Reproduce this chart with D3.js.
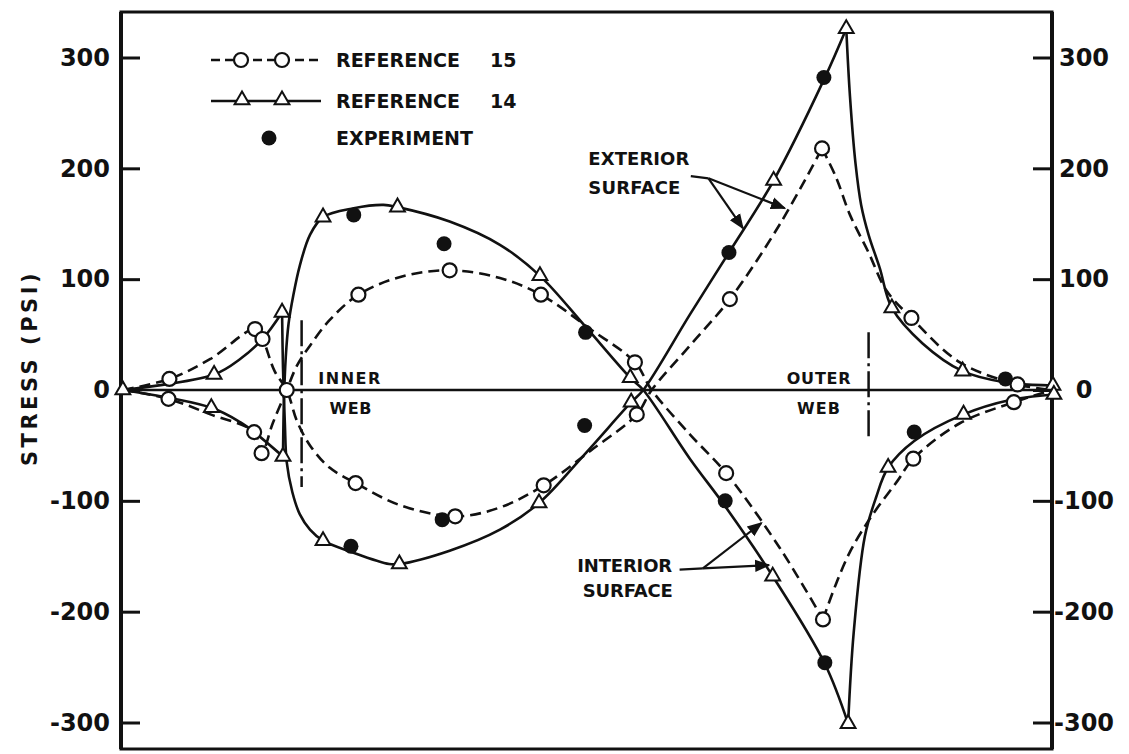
<!DOCTYPE html>
<html><head><meta charset="utf-8">
<script src="https://cdn.jsdelivr.net/npm/d3@7"></script>
<style>
body{margin:0;background:#fff}
svg{display:block}
text{font-family:"DejaVu Sans",sans-serif;font-weight:bold;fill:#111}
</style>
</head><body>
<svg id="c" width="1129" height="754"></svg>
<script>
// ---------------- DATA ----------------
// x: position along the section (0 = left edge, 100 = right edge, unlabelled)
// each point: [x, stress (psi), flag]  flag 0 = curve only, 1 = marker, 2 = marker + sharp corner, 3 = sharp corner only
const yTicks = [-300, -200, -100, 0, 100, 200, 300];
const yTickLabels = ["-300", "-200", "-100", "0", "100", "200", "300"];

// Reference 14 (solid line, triangles)
const ref14A = [
  [0.2, 0, 1], [10.0, 14, 1], [12.8, 28, 0], [15.2, 46, 0], [17.3, 70, 2],
  [17.4, 20, 0], [17.6, -30, 0], [17.8, -65, 0], [18.4, -92, 0], [19.2, -112, 0], [20.3, -126, 0],
  [21.7, -136, 1], [24.7, -146, 0], [28.8, -157, 0], [29.9, -157, 1], [35.3, -145, 0], [40.7, -126, 0],
  [44.9, -102, 1], [49.8, -58, 0], [54.8, -11, 1], [56.1, 0, 0], [61.1, 68, 0], [65.3, 124, 0],
  [70.1, 189, 1], [75.5, 280, 0], [77.9, 326, 2], [78.3, 265, 0], [78.9, 204, 0], [79.5, 167, 0],
  [80.3, 140, 0], [81.5, 110, 0], [82.8, 74, 1], [86.1, 42, 0], [90.4, 17, 1], [94.9, 7, 0], [100.1, 4, 1]
];
const ref14B = [
  [0.2, 0, 0], [9.7, -16, 1], [12.8, -29, 0], [14.3, -38, 0], [17.4, -60, 2],
  [17.5, -10, 0], [17.7, 30, 0], [18.0, 60, 0], [18.5, 85, 0], [19.2, 112, 0], [20.3, 140, 0],
  [21.7, 156, 1], [25.0, 164, 0], [28.2, 167, 0], [29.7, 165, 1], [35.3, 152, 0], [40.7, 131, 0],
  [45.0, 103, 1], [49.8, 58, 0], [54.7, 11, 1], [56.1, 0, 0], [61.1, -62, 0], [64.9, -105, 0],
  [70.0, -168, 1], [75.6, -247, 0], [78.1, -301, 2], [78.7, -219, 0], [79.9, -132, 0], [81.1, -97, 0],
  [82.4, -70, 1], [85.2, -46, 0], [90.5, -22, 1], [95.5, -9, 0], [100.2, -4, 1]
];
// Reference 15 (dashed line, open circles)
const ref15A = [
  [0.2, 0, 0], [5.2, 10, 1], [9.6, 28, 0], [14.4, 55, 1], [15.2, 46, 1], [16.5, 17, 0], [17.8, 0, 1],
  [18.9, -28, 0], [20.3, -50, 0], [22.4, -70, 0], [25.2, -84, 1], [30.0, -104, 0], [35.9, -114, 1],
  [40.7, -106, 0], [45.4, -86, 1], [50.4, -55, 0], [55.4, -22, 1], [57.0, 0, 0], [61.1, 40, 0],
  [65.4, 82, 1], [70.8, 150, 0], [75.3, 218, 2], [76.8, 192, 0], [78.3, 158, 0], [80.3, 124, 0],
  [82.2, 90, 0], [84.9, 65, 1], [90.1, 25, 0], [96.3, 5, 1], [100, 0, 0]
];
const ref15B = [
  [0.2, 0, 0], [5.1, -8, 1], [9.6, -22, 0], [14.3, -38, 1], [15.1, -57, 1], [16.3, -30, 0], [17.8, 0, 0],
  [18.9, 22, 0], [20.3, 40, 0], [22.4, 63, 0], [25.5, 86, 1], [30.0, 102, 0], [35.3, 108, 1],
  [40.7, 101, 0], [45.1, 86, 1], [50.4, 55, 0], [55.2, 25, 1], [57.0, 0, 0], [61.1, -40, 0],
  [65.0, -75, 1], [70.8, -143, 0], [75.4, -207, 2], [76.8, -175, 0], [78.3, -146, 0], [79.9, -123, 0],
  [81.1, -108, 0], [83.4, -82, 0], [85.1, -62, 1], [90.1, -30, 0], [95.9, -11, 1], [100, 0, 0]
];
// Experiment (filled dots)
const experimentX = [25.0, 34.7, 49.9, 49.8, 24.7, 34.5, 65.3, 75.5, 64.9, 75.6, 85.2, 95.0];
const experimentY = [158, 132, 52, -32, -141, -117, 124, 282, -100, -246, -38, 10];

const legendLabels = ["REFERENCE", "REFERENCE", "EXPERIMENT"];
const legendNumbers = ["15", "14", ""];

// annotations, in data units
const webLines = [ {x: 19.4, y0: 63, y1: -87.5}, {x: 80.3, y0: 52, y1: -45} ];
const notes = [
  {t: "INNER", x: 21.2, v: 10.8, w: 62, fs: 16},
  {t: "WEB", x: 22.4, v: -16.2, w: 42, fs: 16},
  {t: "OUTER", x: 71.5, v: 10.8, w: 64, fs: 16},
  {t: "WEB", x: 72.6, v: -16.2, w: 43, fs: 16},
  {t: "EXTERIOR", x: 50.2, v: 208.5, w: 101, fs: 18},
  {t: "SURFACE", x: 50.2, v: 183, w: 92, fs: 18},
  {t: "INTERIOR", x: 49.0, v: -158, w: 95, fs: 18},
  {t: "SURFACE", x: 49.6, v: -180.5, w: 90, fs: 18}
];
const arrowsExt = {start: [61.2, 193], elbow: [63.1, 191], ends: [[66.8, 146], [71.3, 164]]};
const arrowsInt = {start: [60.0, -162], elbow: [62.5, -161], ends: [[68.8, -120], [69.6, -158]]};

// ---------------- DRAW ----------------
const svg = d3.select("#c");
const L = 121, R = 1052, T = 12, B = 749;
const x = d3.scaleLinear().domain([0, 100]).range([L, R]);
const y = d3.scaleLinear().domain([-300, 300]).range([722.5, 57.5]);

const defs = svg.append("defs");
defs.append("marker").attr("id", "ah").attr("viewBox", "0 0 10 10").attr("refX", 9).attr("refY", 5)
  .attr("markerWidth", 7).attr("markerHeight", 7).attr("orient", "auto-start-reverse")
  .append("path").attr("d", "M0,1 L10,5 L0,9 Z").attr("fill", "#111");

// frame
svg.append("rect").attr("x", L).attr("y", T).attr("width", R - L).attr("height", B - T)
  .attr("fill", "none").attr("stroke", "#111").attr("stroke-width", 3);
svg.append("line").attr("x1", L).attr("x2", L).attr("y1", T).attr("y2", B).attr("stroke", "#111").attr("stroke-width", 4);
svg.append("line").attr("x1", R).attr("x2", R).attr("y1", T).attr("y2", B).attr("stroke", "#111").attr("stroke-width", 4);
// zero line
svg.append("line").attr("x1", L).attr("x2", R).attr("y1", y(0)).attr("y2", y(0)).attr("stroke", "#111").attr("stroke-width", 2.5);

// axes
const fmt = d => yTickLabels[yTicks.indexOf(d)];
const gl = svg.append("g").attr("transform", `translate(${L},0)`)
  .call(d3.axisLeft(y).tickValues(yTicks).tickFormat(fmt).tickSizeInner(-19).tickSizeOuter(0).tickPadding(11));
const gr = svg.append("g").attr("transform", `translate(${R},0)`)
  .call(d3.axisRight(y).tickValues(yTicks).tickFormat(fmt).tickSizeInner(-19).tickSizeOuter(0).tickPadding(11));
[gl, gr].forEach(g => {
  g.select(".domain").remove();
  g.selectAll(".tick line").attr("stroke", "#111").attr("stroke-width", 3);
  g.selectAll(".tick text").style("font-size", "24px").style("font-family", "'DejaVu Sans',sans-serif")
    .style("font-weight", "bold").attr("fill", "#111");
});
gr.selectAll(".tick text").attr("text-anchor", "middle").attr("x", 32);

// y title
svg.append("text").attr("transform", `translate(37,${368}) rotate(-90)`).attr("text-anchor", "middle")
  .style("font-size", "21px").style("letter-spacing", "3.5px").text("STRESS (PSI)");

// web lines
webLines.forEach(w => {
  svg.append("line").attr("x1", x(w.x)).attr("x2", x(w.x)).attr("y1", y(w.y0)).attr("y2", y(w.y1))
    .attr("stroke", "#111").attr("stroke-width", 2.5).attr("stroke-dasharray", "26,5,3,5");
});

// curves
const lineGen = d3.line().x(d => x(d[0])).y(d => y(d[1])).curve(d3.curveCatmullRom.alpha(0.5));
function segments(data) {
  const segs = []; let cur = [];
  data.forEach(d => {
    cur.push(d);
    if (d[2] >= 2) { segs.push(cur); cur = [d]; }
  });
  if (cur.length > 1) segs.push(cur);
  return segs;
}
function drawSeries(data, dashed) {
  segments(data).forEach(s => {
    svg.append("path").attr("d", lineGen(s)).attr("fill", "none").attr("stroke", "#111")
      .attr("stroke-width", 2.6).attr("stroke-dasharray", dashed ? "11,6" : null)
      .attr("stroke-linejoin", "round");
  });
}
drawSeries(ref14A, false);
drawSeries(ref14B, false);
drawSeries(ref15A, true);
drawSeries(ref15B, true);

// arrows
[arrowsExt, arrowsInt].forEach(a => {
  svg.append("line").attr("x1", x(a.start[0])).attr("y1", y(a.start[1])).attr("x2", x(a.elbow[0])).attr("y2", y(a.elbow[1]))
    .attr("stroke", "#111").attr("stroke-width", 2.2);
  a.ends.forEach(e => {
    svg.append("line").attr("x1", x(a.elbow[0])).attr("y1", y(a.elbow[1])).attr("x2", x(e[0])).attr("y2", y(e[1]))
      .attr("stroke", "#111").attr("stroke-width", 2.2).attr("marker-end", "url(#ah)");
  });
});

// markers
const tri = d3.symbol(d3.symbolTriangle, 95);
function drawMarkers(data, kind) {
  data.filter(d => d[2] === 1 || d[2] === 2).forEach(d => {
    if (kind === "tri") {
      svg.append("path").attr("d", tri()).attr("transform", `translate(${x(d[0])},${y(d[1])})`)
        .attr("fill", "#fff").attr("stroke", "#111").attr("stroke-width", 2);
    } else {
      svg.append("circle").attr("cx", x(d[0])).attr("cy", y(d[1])).attr("r", 7)
        .attr("fill", "#fff").attr("stroke", "#111").attr("stroke-width", 2.2);
    }
  });
}
drawMarkers(ref15A, "circ");
drawMarkers(ref15B, "circ");
drawMarkers(ref14A, "tri");
drawMarkers(ref14B, "tri");
experimentX.forEach((ex, i) => {
  svg.append("circle").attr("cx", x(ex)).attr("cy", y(experimentY[i])).attr("r", 7.5).attr("fill", "#111");
});

// notes
notes.forEach(n => {
  svg.append("text").attr("x", x(n.x)).attr("y", y(n.v)).attr("dy", "0.36em")
    .attr("textLength", n.w).attr("lengthAdjust", "spacing")
    .style("font-size", n.fs + "px").text(n.t);
});

// legend
const legY = [60, 101, 138];
const lg = svg.append("g");
lg.append("line").attr("x1", 211).attr("x2", 319).attr("y1", legY[0]).attr("y2", legY[0])
  .attr("stroke", "#111").attr("stroke-width", 2.6).attr("stroke-dasharray", "9,5");
[241, 282].forEach(cx => lg.append("circle").attr("cx", cx).attr("cy", legY[0]).attr("r", 7)
  .attr("fill", "#fff").attr("stroke", "#111").attr("stroke-width", 2.2));
lg.append("line").attr("x1", 211).attr("x2", 321).attr("y1", legY[1]).attr("y2", legY[1])
  .attr("stroke", "#111").attr("stroke-width", 2.6);
[242, 282].forEach(cx => lg.append("path").attr("d", tri()).attr("transform", `translate(${cx},${legY[1] - 1})`)
  .attr("fill", "#fff").attr("stroke", "#111").attr("stroke-width", 2));
lg.append("circle").attr("cx", 269).attr("cy", legY[2]).attr("r", 7.5).attr("fill", "#111");
legendLabels.forEach((t, i) => {
  lg.append("text").attr("x", 336).attr("y", legY[i]).attr("dy", "0.36em")
    .style("font-size", "19px").text(t);
  if (legendNumbers[i]) {
    lg.append("text").attr("x", 490).attr("y", legY[i]).attr("dy", "0.36em")
      .style("font-size", "19px").text(legendNumbers[i]);
  }
});
</script>
</body></html>
